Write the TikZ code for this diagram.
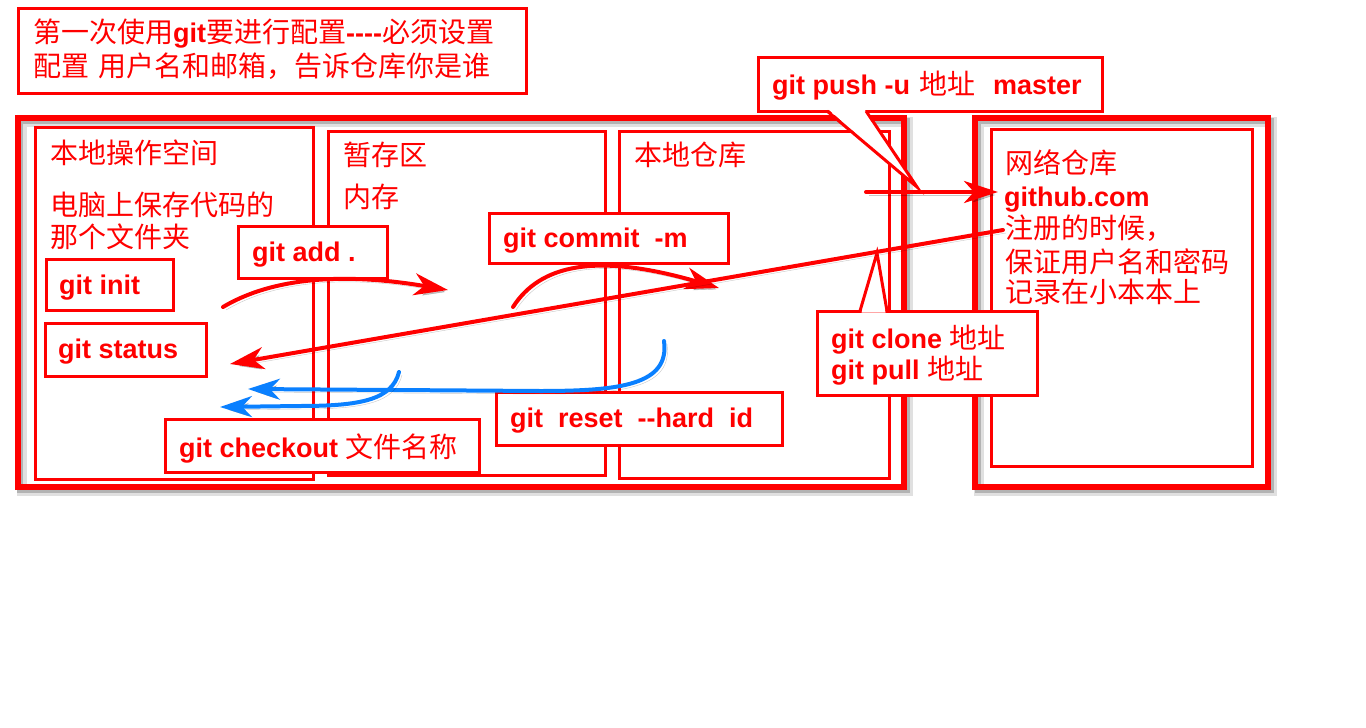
\documentclass[tikz,border=0pt]{standalone}
\usepackage{fontspec}
\setmainfont{Liberation Sans}
\newfontfamily\cjkfont{Noto Sans CJK SC}
\usetikzlibrary{arrows.meta}
\definecolor{gred}{RGB}{255,0,0}
\definecolor{gblue}{RGB}{10,128,255}
\newcommand\zhtxt[1]{{\cjkfont\fontsize{28}{32}\selectfont #1}}
\begin{document}
\begin{tikzpicture}[x=1pt,y=-1pt,
  shadowed/.style={preaction={draw=black,opacity=0.12,line width=10pt,transform canvas={shift={(4pt,-4pt)}}},
                   preaction={draw=black,opacity=0.2,transform canvas={shift={(2.5pt,-2.5pt)}}}},
  ashadow/.style={preaction={draw=black,opacity=0.22,transform canvas={shift={(3pt,-3pt)}}}},
  bigbox/.style={draw=gred,line width=6pt,inner sep=0pt,outer sep=0pt,anchor=north west,shadowed},
  areabox/.style={draw=gred,line width=3pt,inner sep=0pt,outer sep=0pt,anchor=north west},
  cmdbox/.style={draw=gred,line width=3pt,fill=white,inner sep=0pt,outer sep=0pt,anchor=north west},
  txt/.style={anchor=west,inner sep=0pt,text=gred,font=\fontsize{27}{32}\selectfont},
  cmd/.style={anchor=west,inner sep=0pt,text=gred,font=\fontsize{27}{32}\selectfont\bfseries,yshift=-3pt},
  redarrow/.style={draw=gred,line width=4pt,line cap=round,-{Stealth[length=34pt,width=22pt,inset=10pt]},ashadow},
  bluearrow/.style={draw=gblue,line width=4pt,line cap=round,-{Stealth[length=32pt,width=21pt,inset=10pt]},ashadow},
  pointer/.style={draw=gred,line width=3pt,line join=miter}
]
\useasboundingbox (0,0) rectangle (1366,728);
\fill[white] (0,0) rectangle (1366,728);

% title
\node[cmdbox,minimum width=508pt,minimum height=85pt] (title) at (18,8) {};
\node[txt] (t1) at (33,34) {\zhtxt{第一次使用}\textbf{git}\zhtxt{要进行配置}\textbf{-{}-{}-{}-}\zhtxt{必须设置}};
\node[txt] (t2) at (33,66) {\zhtxt{配置}\hspace{9pt}\zhtxt{用户名和邮箱，告诉仓库你是谁}};

% outer boxes
\node[bigbox,minimum width=886.5pt,minimum height=369pt] (local) at (17.5,118) {};
\node[bigbox,minimum width=293pt,minimum height=369pt] (remote) at (975,118) {};

% area boxes
\node[areabox,minimum width=278pt,minimum height=352pt] (work) at (35,127) {};
\node[areabox,minimum width=277pt,minimum height=344pt] (stage) at (328,131) {};
\node[areabox,minimum width=270pt,minimum height=347pt] (repo) at (619,131) {};
\node[areabox,minimum width=261pt,minimum height=337pt] (net) at (991,129) {};

% area texts
\node[txt] (workt) at (50,153) {\zhtxt{本地操作空间}};
\node[txt] (workd1) at (50,205) {\zhtxt{电脑上保存代码的}};
\node[txt] (workd2) at (50,237) {\zhtxt{那个文件夹}};
\node[txt] (staget) at (343,155) {\zhtxt{暂存区}};
\node[txt] (staged) at (343,197) {\zhtxt{内存}};
\node[txt] (repot) at (634,155) {\zhtxt{本地仓库}};
\node[txt] (nett) at (1005,163) {\zhtxt{网络仓库}};
\node[cmd] (gh) at (1004,197) {github.com};
\node[txt] (netd1) at (1005,228) {\zhtxt{注册的时候，}};
\node[txt] (netd2) at (1005,262) {\zhtxt{保证用户名和密码}};
\node[txt] (netd3) at (1005,292) {\zhtxt{记录在小本本上}};

% command boxes
\node[cmdbox,minimum width=127pt,minimum height=51pt] (init) at (46,259) {};
\node[cmd] (initt) at (59,285) {git init};
\node[cmdbox,minimum width=161pt,minimum height=53pt] (status) at (45,323) {};
\node[cmd] (statust) at (58,349) {git status};
\node[cmdbox,minimum width=149pt,minimum height=52pt] (add) at (238,226) {};
\node[cmd] (addt) at (252,252) {git add .};
\node[cmdbox,minimum width=239pt,minimum height=50pt] (commit) at (489,213) {};
\node[cmd] (committ) at (503,238) {git commit\ \ -m};
\node[cmdbox,minimum width=314pt,minimum height=53pt] (checkout) at (165,419) {};
\node[cmd] (checkoutt) at (179,445) {git checkout \zhtxt{\mdseries 文件名称}};
\node[cmdbox,minimum width=286pt,minimum height=53pt] (reset) at (496,392) {};
\node[cmd] (resett) at (510,418) {git\ \ reset\ \ -{}-hard\ \ id};

% push callout
\node[cmdbox,minimum width=344pt,minimum height=54pt] (push) at (758,57) {};
\node[cmd] (pusht) at (772,83) {git push -u\hspace{9pt}\zhtxt{\mdseries 地址}\hspace{18pt}master};
\coordinate (pushtip) at (917,187);
\fill[white] (828.5,109.5) -- (pushtip) -- (864.5,109.5) -- cycle;
\draw[pointer] (827,111) -- (pushtip) -- (866,111);

% clone callout
\node[cmdbox,minimum width=220pt,minimum height=84pt] (clone) at (817,311) {};
\node[cmd] (clonet1) at (831,337) {git clone \zhtxt{\mdseries 地址}};
\node[cmd] (clonet2) at (831,368) {git pull \zhtxt{\mdseries 地址}};
\coordinate (clonetip) at (877,253);
\fill[white] (861.5,312.5) -- (clonetip) -- (885.5,312.5) -- cycle;
\draw[pointer] (860,311) -- (clonetip) -- (887,311);

% arrows
\coordinate (a1s) at (223,307);
\coordinate (a1e) at (448,290);
\draw[redarrow] (a1s) .. controls (265,282) and (330,270) .. (a1e);
\coordinate (a2s) at (513,307);
\coordinate (a2e) at (719,288);
\draw[redarrow] (a2s) .. controls (540,265) and (595,252) .. (a2e);
\coordinate (a3s) at (1003,230);
\coordinate (a3e) at (230,364);
\draw[redarrow] (a3s) -- (a3e);
\coordinate (a4s) at (866,192);
\coordinate (a4e) at (998,192);
\draw[redarrow] (a4s) -- (a4e);
\coordinate (b1s) at (664,341);
\coordinate (b1e) at (248,389);
\draw[bluearrow] (b1s) .. controls (670,385) and (620,391) .. (540,391) -- (b1e);
\coordinate (b2s) at (399,372);
\coordinate (b2e) at (220,407);
\draw[bluearrow] (b2s) .. controls (392,400) and (360,406) .. (300,406) -- (b2e);
\end{tikzpicture}
\end{document}
